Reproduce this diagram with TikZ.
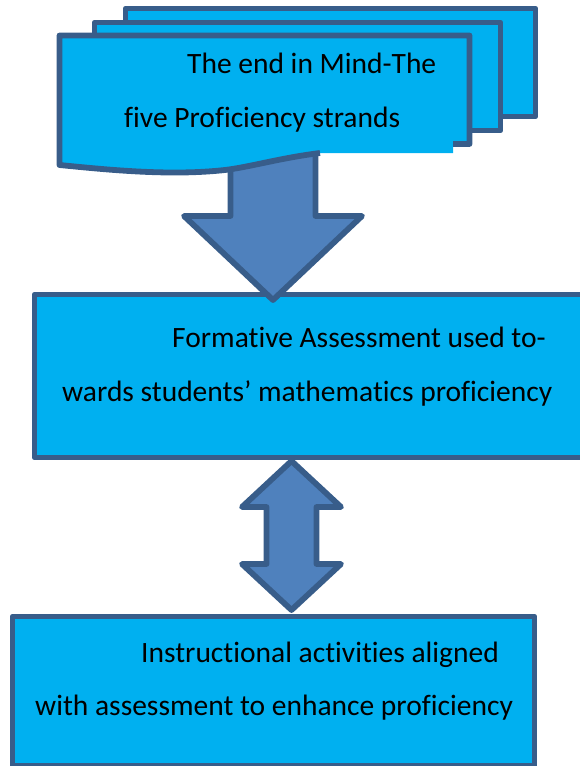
\documentclass[tikz,border=0pt]{standalone}
\usepackage{fontspec}
\setmainfont[Ligatures=NoCommon]{Carlito}
\definecolor{boxfill}{HTML}{00B0F0}
\definecolor{edge}{HTML}{385D8A}
\definecolor{arrowfill}{HTML}{4F81BD}
\tikzset{
  outline/.style={draw=edge, line width=5.8pt, line join=round},
  pagebox/.style={outline, fill=boxfill, rectangle, inner sep=0pt},
  blockarrow/.style={outline, fill=arrowfill},
  label/.style={anchor=base west, inner sep=0pt, font=\fontsize{29.5}{29.5}\selectfont, text=black},
}
\begin{document}
\begin{tikzpicture}[x=1pt, y=-1pt]
\useasboundingbox (0,0) rectangle (579,766);

% formative assessment box
\node[pagebox, minimum width=565.5pt, minimum height=163pt] (assess) at (317.25,376) {};
\node[label] (a1) at (172,347) {Formative Assessment used to-};
\node[label] (a2) at (62,401) {wards students’ mathematics proficiency};

% instructional activities box
\node[pagebox, minimum width=522pt, minimum height=149.5pt] (instr) at (273.5,691.25) {};
\node[label] (i1) at (141,662) {Instructional activities aligned};
\node[label] (i2) at (35,715) {with assessment to enhance proficiency};

% down block arrow; its shaft starts under the stacked pages
\coordinate (dtip) at (273,300);
\draw[blockarrow] (230.5,130) -- (230.5,216) -- (184,216) -- (dtip)
  -- (362,216) -- (315.5,216) -- (315.5,130) -- cycle;

% stacked pages
\node[pagebox, minimum width=410pt, minimum height=108pt] (backpage) at (330.5,62.5) {};
\node[pagebox, minimum width=406pt, minimum height=108pt] (midpage) at (297.5,76.5) {};
\fill[boxfill] (59.5,35.5) -- (469.5,35.5) -- (469.5,144) -- (453,144) -- (453,153)
  -- (320,153) .. controls (280,158) and (250,167) .. (225,170)
  .. controls (170,176) and (110,170) .. (59.5,165) -- cycle;
\draw[outline] (453,144) -- (469.5,144) -- (469.5,35.5) -- (59.5,35.5) -- (59.5,165)
  .. controls (110,170) and (170,176) .. (225,170)
  .. controls (250,167) and (280,158) .. (320,153);
\node[label] (t1) at (187,73) {The end in Mind-The};
\node[label] (t2) at (124,127) {five Proficiency strands};

% double block arrow between the two boxes
\coordinate (utip) at (291.5,461);
\coordinate (btip) at (291.5,610);
\draw[blockarrow] (utip) -- (341,507) -- (316.5,507) -- (316.5,564) -- (341,564)
  -- (btip) -- (242,564) -- (266.5,564) -- (266.5,507) -- (242,507) -- cycle;
\end{tikzpicture}
\end{document}
